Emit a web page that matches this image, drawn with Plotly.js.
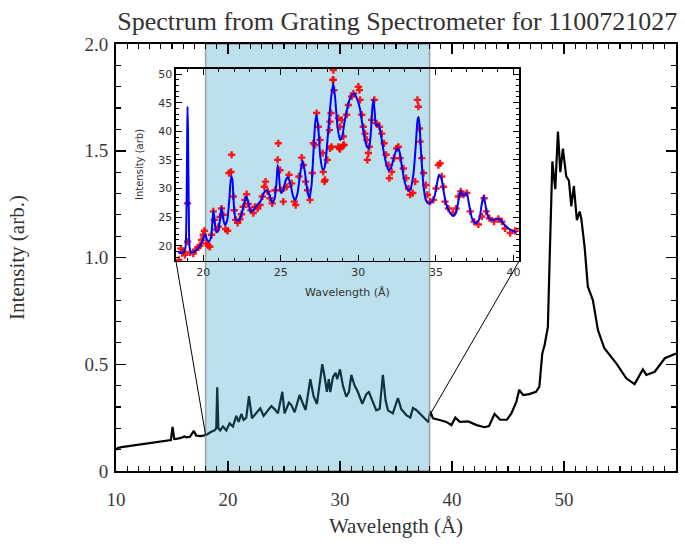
<!DOCTYPE html>
<html>
<head>
<meta charset="utf-8">
<script src="https://cdn.plot.ly/plotly-3.0.1.min.js"></script>
<style>html,body{margin:0;padding:0;background:#fff;}</style>
</head>
<body>
<div id="chart" style="width:685px;height:544px;"></div>
<script>
// ---- text ----
const chartTitle = 'Spectrum from Grating Spectrometer for 1100721027';
const xTitle = 'Wavelength (Å)';
const yTitle = 'Intensity (arb.)';
const insetYTitle = 'Intensity (arb)';

// ---- full spectrum (Å, arb.) ----
const wavelength = [
  10.0, 10.15, 10.5, 11.0, 11.5, 12.0, 12.5, 13.0, 13.5, 14.0, 14.5, 14.9, 15.05, 15.2, 15.5, 15.8,
  16.1, 16.3, 16.6, 16.95, 17.15, 17.5, 17.8, 18.06, 18.5, 18.8, 18.95, 19.04, 19.14, 19.3, 19.55,
  19.85, 20.14, 20.44, 20.74, 20.95, 21.19, 21.39, 21.63, 21.87, 22.14, 22.53, 22.88, 23.18, 23.56,
  23.87, 24.16, 24.46, 24.85, 25.05, 25.44, 25.65, 25.95, 26.39, 26.69, 26.93, 27.35, 27.64, 27.94,
  28.42, 28.63, 28.83, 29.0, 29.13, 29.37, 29.6, 29.75, 30.0, 30.26, 30.56, 30.8, 31.01, 31.3, 31.6,
  31.99, 32.35, 32.58, 32.94, 33.24, 33.54, 33.83, 34.07, 34.28, 34.72, 35.17, 35.47, 35.92, 36.28,
  36.51, 36.81, 37.1, 37.55, 37.9, 38.06, 38.3, 38.9, 39.5, 39.95, 40.3, 40.7, 41.45, 42.2, 42.9,
  43.3, 43.8, 44.3, 44.9, 45.3, 45.75, 46.0, 46.35, 46.9, 47.5, 47.8, 48.06, 48.27, 48.56, 48.7,
  48.96, 49.22, 49.46, 49.67, 49.9, 50.2, 50.44, 50.65, 50.88, 51.15, 51.4, 51.55, 51.84, 52.13,
  52.58, 53.03, 53.6, 54.67, 55.56, 56.3, 56.75, 57.04, 57.35, 58.1, 59.0, 59.7, 60.0
];
const intensity = [
  0.098, 0.108, 0.112, 0.116, 0.119, 0.123, 0.126, 0.130, 0.133, 0.137, 0.141, 0.145, 0.207, 0.150, 0.152, 0.155,
  0.162, 0.158, 0.160, 0.188, 0.166, 0.163, 0.166, 0.169, 0.184, 0.190, 0.200, 0.392, 0.200, 0.190, 0.208,
  0.190, 0.223, 0.208, 0.258, 0.230, 0.267, 0.239, 0.250, 0.351, 0.247, 0.270, 0.294, 0.258, 0.286,
  0.304, 0.290, 0.270, 0.371, 0.270, 0.320, 0.310, 0.275, 0.356, 0.315, 0.286, 0.430, 0.350, 0.314,
  0.500, 0.440, 0.371, 0.430, 0.370, 0.440, 0.460, 0.430, 0.476, 0.400, 0.348, 0.370, 0.450, 0.400, 0.370,
  0.315, 0.360, 0.370, 0.320, 0.284, 0.290, 0.450, 0.330, 0.284, 0.270, 0.342, 0.290, 0.262, 0.250,
  0.295, 0.286, 0.270, 0.250, 0.228, 0.280, 0.247, 0.239, 0.230, 0.215, 0.250, 0.230, 0.232, 0.215, 0.205,
  0.210, 0.267, 0.240, 0.240, 0.270, 0.325, 0.380, 0.356, 0.360, 0.371, 0.395, 0.550, 0.590, 0.675, 0.957,
  1.450, 1.320, 1.590, 1.400, 1.510, 1.380, 1.360, 1.240, 1.335, 1.175, 1.215, 1.180, 1.050, 0.863,
  0.800, 0.660, 0.575, 0.504, 0.434, 0.407, 0.450, 0.476, 0.450, 0.465, 0.528, 0.543, 0.550
];

// ---- highlighted window on the full spectrum ----
const bandRange = [18, 38];

// ---- inset: model fit (blue curve) ----
const fitWavelength = [
  18.40, 18.55, 18.72, 18.85, 18.92, 18.97, 18.99, 19.02, 19.07, 19.13, 19.25, 19.45, 19.70, 19.90,
  20.05, 20.12, 20.25, 20.40, 20.52, 20.60, 20.66, 20.73, 20.83, 20.95, 21.08, 21.18, 21.28, 21.40,
  21.55, 21.68, 21.80, 21.88, 21.98, 22.10, 22.30, 22.50, 22.65, 22.78, 22.90, 23.05, 23.25, 23.45,
  23.70, 23.95, 24.10, 24.25, 24.45, 24.60, 24.72, 24.80, 24.88, 25.00, 25.15, 25.30, 25.45, 25.60,
  25.80, 25.95, 26.10, 26.25, 26.40, 26.55, 26.70, 26.84, 26.98, 27.10, 27.22, 27.31, 27.42, 27.55,
  27.70, 27.82, 27.95, 28.10, 28.25, 28.38, 28.50, 28.65, 28.82, 28.95, 29.10, 29.30, 29.50, 29.72,
  29.90, 30.10, 30.30, 30.50, 30.68, 30.80, 30.90, 30.97, 31.05, 31.15, 31.30, 31.45, 31.60, 31.78,
  31.94, 32.10, 32.30, 32.50, 32.65, 32.80, 33.00, 33.20, 33.35, 33.55, 33.70, 33.82, 33.88, 33.95,
  34.05, 34.20, 34.35, 34.50, 34.70, 34.90, 35.05, 35.20, 35.35, 35.50, 35.66, 35.90, 36.13, 36.30,
  36.45, 36.60, 36.72, 36.85, 36.99, 37.15, 37.35, 37.59, 37.80, 37.95, 38.07, 38.20, 38.35, 38.50,
  38.75, 39.00, 39.20, 39.40, 39.60, 39.85, 40.20
];
const fitIntensity = [
  18.9, 18.7, 18.8, 19.6, 26.0, 40.0, 44.3, 40.0, 26.0, 19.6, 18.8, 19.0, 19.6, 20.4,
  21.6, 22.0, 21.0, 20.8, 21.8, 24.5, 26.1, 24.5, 22.5, 22.5, 24.5, 26.7, 24.8, 23.6,
  24.5, 28.0, 32.2, 31.5, 27.0, 24.5, 24.4, 25.8, 27.5, 28.6, 27.6, 26.0, 26.3, 27.0,
  27.8, 29.4, 29.7, 29.0, 27.5, 28.2, 31.0, 34.1, 32.5, 29.3, 29.6, 31.3, 32.0, 31.0,
  28.6, 28.0, 29.5, 32.5, 34.9, 33.0, 29.8, 28.3, 30.5, 36.0, 41.5, 42.9, 40.5, 35.5,
  33.3, 33.6, 36.5, 41.5, 46.0, 48.4, 46.0, 41.0, 38.5, 39.0, 41.5, 44.2, 46.0, 46.6,
  45.8, 44.0, 40.5, 37.7, 37.0, 39.5, 44.0, 45.6, 43.5, 41.0, 41.2, 39.5, 37.0, 34.5,
  33.2, 33.6, 35.5, 37.0, 36.5, 34.0, 31.0, 29.7, 29.8, 32.5, 37.5, 42.0, 42.5, 41.0,
  36.0, 30.5, 28.0, 27.4, 27.6, 28.5, 30.5, 32.4, 31.8, 29.5, 27.3, 25.8, 25.2, 25.8,
  27.8, 29.6, 28.8, 28.8, 29.2, 27.0, 24.6, 23.9, 24.7, 27.2, 28.7, 27.0, 25.2, 24.6,
  24.5, 24.7, 24.4, 23.7, 23.2, 22.7, 22.3
];

// ---- inset: measured points (red crosses) ----
const dataWavelength = [
  18.43, 18.56, 18.65, 18.71, 18.82, 18.99, 18.99, 19.14, 19.36, 19.51, 19.68, 19.79, 19.89, 20.00,
  20.07, 20.22, 20.32, 20.43, 20.54, 20.65, 20.71, 20.86, 20.97, 21.08, 21.18, 21.29, 21.44, 21.57,
  21.66, 21.79, 21.83, 21.94, 22.00, 22.09, 22.22, 22.37, 22.47, 22.58, 22.69, 22.80, 22.90, 23.08,
  23.23, 23.34, 23.51, 23.66, 23.81, 23.94, 24.02, 24.15, 24.30, 24.45, 24.63, 24.80, 24.84, 24.95,
  25.06, 25.16, 25.38, 25.53, 25.70, 25.87, 25.96, 26.17, 26.35, 26.45, 26.60, 26.73, 26.88, 27.03,
  27.10, 27.21, 27.31, 27.42, 27.53, 27.70, 27.74, 27.81, 27.85, 28.00, 28.13, 28.24, 28.28, 28.17,
  28.17, 28.35, 28.39, 28.39, 28.43, 28.71, 28.71, 28.78, 28.82, 28.82, 28.93, 29.03, 29.03, 29.08,
  29.25, 29.36, 29.57, 29.68, 30.00, 30.07, 30.11, 30.22, 30.32, 30.43, 30.54, 30.58, 30.65, 30.71,
  30.86, 31.03, 31.18, 31.36, 31.51, 31.66, 31.79, 31.94, 32.00, 32.15, 32.30, 32.47, 32.58, 32.69,
  32.90, 33.08, 33.23, 33.34, 33.51, 33.66, 33.81, 33.87, 33.94, 33.98, 34.09, 34.20, 34.35, 34.45,
  34.63, 34.84, 35.01, 35.16, 35.27, 35.38, 35.49, 35.59, 35.81, 36.09, 36.30, 36.45, 36.60, 36.78,
  36.99, 37.21, 37.46, 37.74, 37.96, 38.11, 38.24, 38.45, 38.75, 39.03, 39.25, 39.46, 39.79, 40.11
];
const dataIntensity = [
  17.5, 19.5, 18.7, 19.0, 18.4, 27.4, 20.7, 18.8, 18.6, 19.3, 19.7, 20.0, 21.0, 21.9,
  22.6, 20.4, 20.0, 19.8, 21.9, 26.0, 24.5, 22.8, 23.3, 25.0, 26.5, 25.4, 22.9, 22.6,
  32.7, 32.9, 35.9, 28.6, 26.2, 24.5, 24.0, 24.6, 25.5, 26.8, 28.0, 29.0, 27.3, 26.2,
  25.7, 26.8, 26.5, 27.1, 28.6, 30.3, 31.2, 29.5, 28.3, 27.4, 29.7, 35.0, 37.9, 33.2,
  29.7, 27.7, 30.3, 32.4, 30.9, 27.7, 27.1, 32.1, 35.4, 34.1, 31.2, 29.7, 28.0, 32.7,
  37.9, 37.6, 43.2, 40.8, 38.5, 36.2, 32.9, 31.2, 31.5, 35.0, 40.2, 43.2, 37.3, 41.7,
  37.0, 49.0, 50.7, 49.0, 47.2, 37.3, 42.3, 37.0, 40.8, 36.9, 42.0, 39.1, 37.6, 37.6,
  42.9, 44.6, 46.1, 46.6, 47.8, 47.2, 45.5, 42.9, 40.8, 39.6, 38.5, 35.0, 36.2, 37.3,
  42.0, 45.5, 41.4, 40.8, 39.6, 37.9, 35.9, 34.1, 31.8, 32.9, 35.3, 37.0, 37.3, 35.3,
  33.5, 31.8, 30.0, 28.9, 29.2, 31.2, 45.5, 44.3, 40.5, 38.2, 35.3, 32.7, 30.6, 28.9,
  27.7, 28.0, 30.0, 34.1, 34.4, 32.1, 30.3, 27.7, 26.5, 25.7, 26.5, 28.6, 29.5, 28.9,
  29.2, 26.0, 24.2, 23.7, 25.1, 28.3, 26.0, 24.8, 24.2, 24.7, 24.2, 23.0, 22.2, 22.6
];

// ---- ticks ----
const xTickStart = 10, xTickStep = 10, xMinorStep = 1;
const yTickStart = 0, yTickStep = 0.5, yMinorStep = 0.1;
const yLabelAlias = { '0.0': '0' };
const insetTickStart = 20, insetTickStep = 5, insetMinorStep = 1;

// ---- geometry ----
const xRange = [10, 60];
const yRange = [0, 2.0];
const insetXRange = [18.24, 40.37];
const insetYRange = [17.33, 50.9];
const insetDomainX = [0.107, 0.720];
const insetDomainY = [0.492, 0.9415];

// linear interpolation on the spectrum, used to anchor the zoom connectors
function valueAt(x) {
  for (let i = 1; i < wavelength.length; i++) {
    if (wavelength[i] >= x) {
      const t = (x - wavelength[i - 1]) / (wavelength[i] - wavelength[i - 1]);
      return intensity[i - 1] + t * (intensity[i] - intensity[i - 1]);
    }
  }
  return intensity[intensity.length - 1];
}
// inset corners expressed in main-axis data units
const toDataX = f => xRange[0] + f * (xRange[1] - xRange[0]);
const toDataY = f => yRange[0] + f * (yRange[1] - yRange[0]);

// connector polyline: left edge -> inset corner, gap, right edge -> inset corner
const connectorX = [bandRange[0], toDataX(insetDomainX[0]), null, bandRange[1], toDataX(insetDomainX[1])];
const connectorY = [valueAt(bandRange[0]), toDataY(insetDomainY[0]), null, valueAt(bandRange[1]), toDataY(insetDomainY[0])];

const serif = 'Liberation Serif, Times New Roman, serif';
const sans = 'DejaVu Sans, Verdana, sans-serif';

const traces = [
  {
    x: wavelength, y: intensity, xaxis: 'x', yaxis: 'y',
    type: 'scatter', mode: 'lines',
    line: { color: '#000000', width: 2.2 }
  },
  {
    // translucent window over the zoomed range
    x: [bandRange[0], bandRange[0], bandRange[1], bandRange[1], bandRange[0]],
    y: [yRange[0], yRange[1], yRange[1], yRange[0], yRange[0]],
    xaxis: 'x', yaxis: 'y',
    type: 'scatter', mode: 'lines', fill: 'toself',
    fillcolor: 'rgba(47,162,200,0.32)',
    line: { color: 'rgba(150,150,150,0.9)', width: 1.5 }
  },
  {
    x: connectorX, y: connectorY, xaxis: 'x', yaxis: 'y',
    type: 'scatter', mode: 'lines', connectgaps: false,
    line: { color: '#000', width: 1 }
  },
  {
    x: dataWavelength, y: dataIntensity, xaxis: 'x2', yaxis: 'y2',
    type: 'scatter', mode: 'markers',
    marker: { symbol: 'cross', size: 6, color: 'rgba(255,0,0,0.9)', line: { width: 0 } }
  },
  {
    x: fitWavelength, y: fitIntensity, xaxis: 'x2', yaxis: 'y2',
    type: 'scatter', mode: 'lines',
    line: { color: '#0000ff', width: 2, shape: 'spline', smoothing: 0.6 }
  }
];

const mainAxis = {
  showline: true, linecolor: '#000', linewidth: 2, layer: 'above traces',
  mirror: 'ticks', ticks: 'inside', ticklen: 10, tickwidth: 1.5, tickcolor: '#000',
  showgrid: false, zeroline: false, tickmode: 'linear',
  tickfont: { family: serif, size: 19, color: '#3a3a3a' }
};
const insetAxis = {
  showline: true, linecolor: '#000', linewidth: 1.5, layer: 'above traces',
  mirror: 'ticks', ticks: 'inside', ticklen: 6, tickwidth: 1, tickcolor: '#000',
  showgrid: false, zeroline: false, tickmode: 'linear', tick0: insetTickStart, dtick: insetTickStep,
  tickfont: { family: sans, size: 11, color: '#333' },
  minor: { dtick: insetMinorStep, ticks: 'inside', ticklen: 3, tickwidth: 1, tickcolor: '#000' }
};

const layout = {
  width: 685, height: 544,
  margin: { l: 116, r: 9, t: 44, b: 73 },
  paper_bgcolor: '#ffffff',
  plot_bgcolor: 'rgba(0,0,0,0)',
  showlegend: false,
  title: {
    text: chartTitle, x: 0.58, xanchor: 'center', xref: 'container',
    y: 0.962, yanchor: 'middle', yref: 'container',
    font: { family: serif, size: 26, color: '#333' }
  },
  xaxis: Object.assign({}, mainAxis, {
    domain: [0, 1], range: xRange, tick0: xTickStart, dtick: xTickStep,
    ticklabelstandoff: 10,
    minor: { dtick: xMinorStep, ticks: 'inside', ticklen: 5, tickwidth: 1.2, tickcolor: '#000' },
    title: { text: xTitle, font: { family: serif, size: 21, color: '#333' }, standoff: 10 },
    automargin: false
  }),
  yaxis: Object.assign({}, mainAxis, {
    domain: [0, 1], range: yRange, tick0: yTickStart, dtick: yTickStep,
    tickformat: '.1f', labelalias: yLabelAlias,
    ticklabelstandoff: 2,
    minor: { dtick: yMinorStep, ticks: 'inside', ticklen: 5, tickwidth: 1.2, tickcolor: '#000' },
    title: { text: yTitle, font: { family: serif, size: 21, color: '#333' }, standoff: 54 },
    automargin: false
  }),
  xaxis2: Object.assign({}, insetAxis, {
    domain: insetDomainX, anchor: 'y2', range: insetXRange
  }),
  yaxis2: Object.assign({}, insetAxis, {
    domain: insetDomainY, anchor: 'x2', range: insetYRange
  }),
  // inset axis titles
  annotations: [
    {
      text: xTitle, xref: 'paper', yref: 'paper',
      x: (insetDomainX[0] + insetDomainX[1]) / 2, y: insetDomainY[0] - 0.075,
      xanchor: 'center', yanchor: 'middle', showarrow: false,
      font: { family: sans, size: 11, color: '#333' }
    },
    {
      text: insetYTitle, xref: 'paper', yref: 'paper', textangle: -90,
      x: insetDomainX[0] - 0.064, y: (insetDomainY[0] + insetDomainY[1]) / 2,
      xanchor: 'center', yanchor: 'middle', showarrow: false,
      font: { family: sans, size: 10, color: '#333' }
    }
  ]
};

Plotly.newPlot('chart', traces, layout, { staticPlot: true, displayModeBar: false });
</script>
</body>
</html>
